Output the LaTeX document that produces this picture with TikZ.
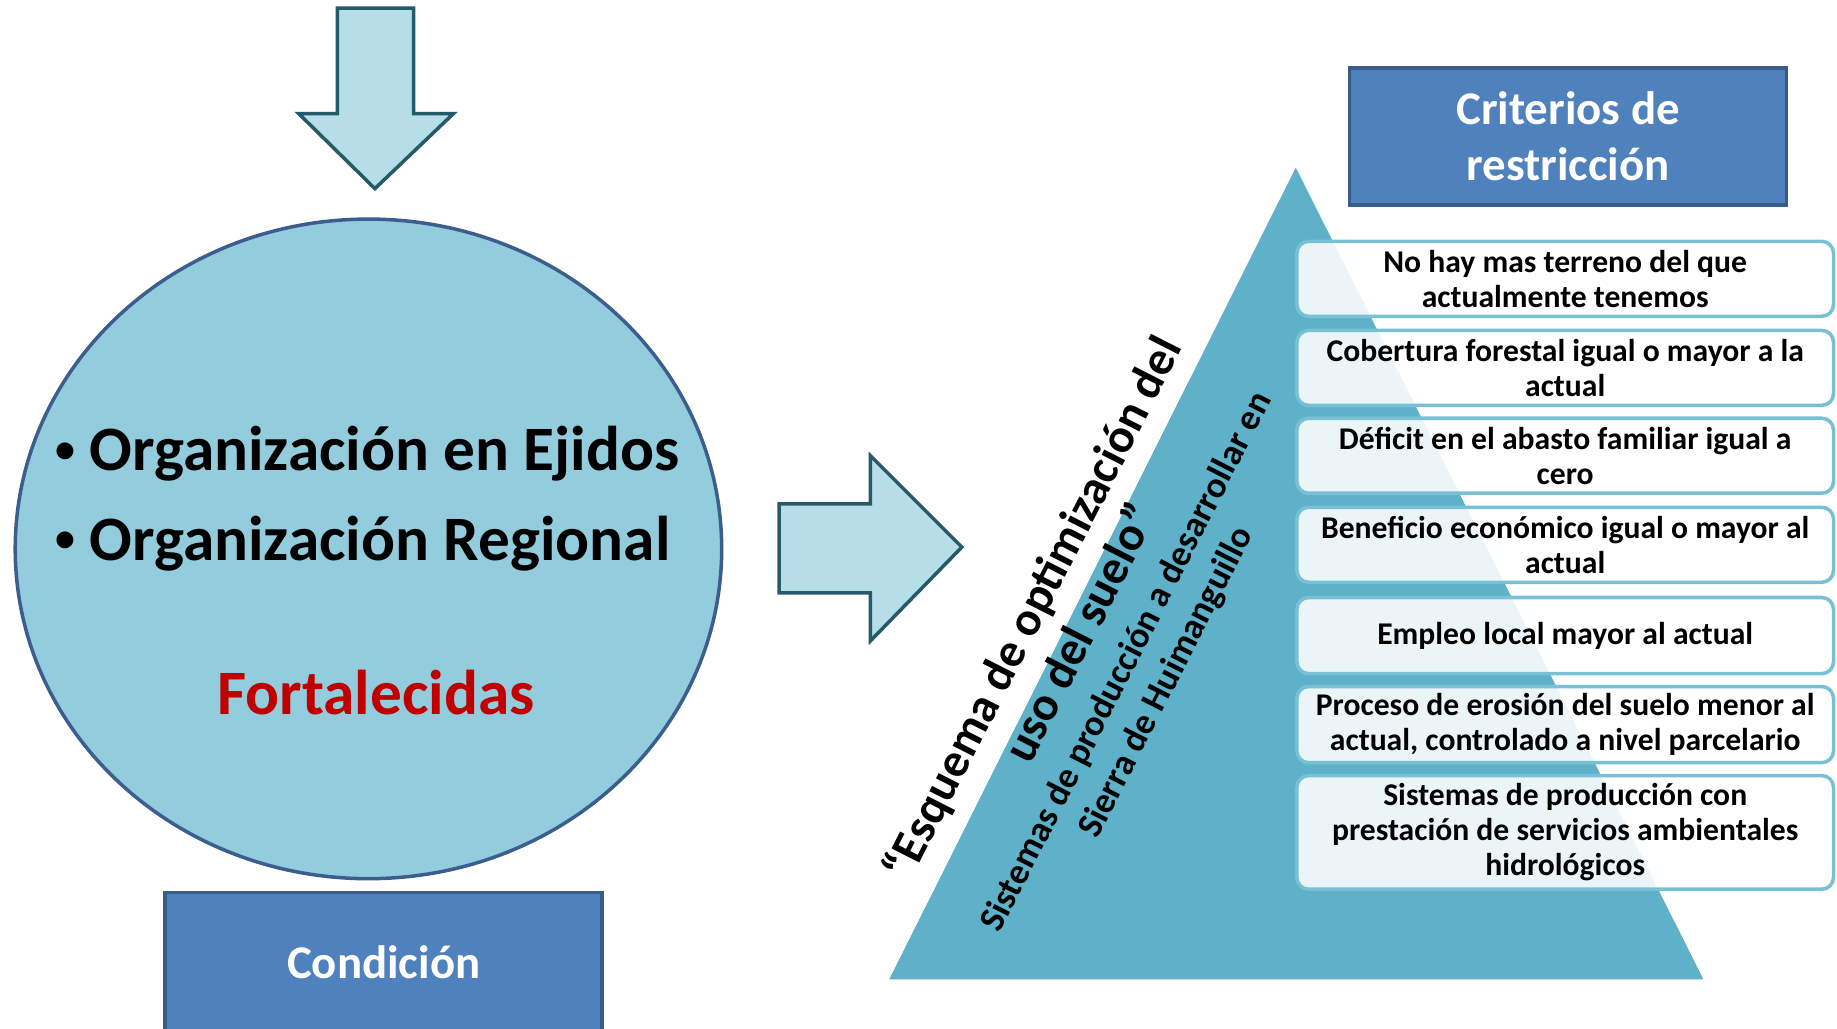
\documentclass[tikz,border=0pt]{standalone}
\usepackage{fontspec}
\setmainfont{Carlito}

\definecolor{arrowfill}{RGB}{183,221,232}
\definecolor{arrowline}{RGB}{36,90,106}
\definecolor{ovalfill}{RGB}{147,205,221}
\definecolor{ovalline}{RGB}{59,94,143}
\definecolor{boxfill}{RGB}{79,129,189}
\definecolor{boxline}{RGB}{56,93,138}
\definecolor{pyrfill}{RGB}{94,177,201}
\definecolor{critline}{RGB}{120,192,212}
\definecolor{fortred}{RGB}{192,0,0}

\newcommand\ovalbullet{\makebox[29pt][l]{\raisebox{7pt}{\fontsize{34}{34}\selectfont•}}}

\tikzset{
  titlebox/.style={draw=boxline,fill=boxfill,line width=3,text=white,align=center,
    font=\bfseries\fontsize{40}{48}\selectfont,inner sep=0},
  critbox/.style={draw=critline,line width=3,fill=white,fill opacity=0.88,text opacity=1,
    rounded corners=10,minimum width=458,minimum height=64,inner sep=0,align=center,
    font=\bfseries\fontsize{27}{30}\selectfont},
  blockarrow/.style={fill=arrowfill,draw=arrowline,line width=3}
}

\begin{document}
\begin{tikzpicture}[x=1pt,y=-1pt]
  % Constants
  \pgfmathsetmacro\w{1568}
  \pgfmathsetmacro\h{878}
  \pgfmathsetmacro\critx{1336}
  % Boundary
  \path[use as bounding box] (0,0) rectangle (\w,\h);
  % Arrow into the oval
  \filldraw[blockarrow] (288,7) -- (353,7) -- (353,97) -- (387,97) -- (320,161) -- (255,97) -- (288,97) -- cycle;
  % Oval
  \filldraw[fill=ovalfill,draw=ovalline,line width=3] (314.5,468.5) ellipse [x radius=301.5, y radius=281.5];
  \node[anchor=base west,font=\bfseries\fontsize{54}{60}\selectfont] (ejidos) at (44,402) {\ovalbullet Organización en Ejidos};
  \node[anchor=base west,font=\bfseries\fontsize{54}{60}\selectfont] (regional) at (44,478) {\ovalbullet Organización Regional};
  \node[anchor=base,text=fortred,font=\bfseries\fontsize{54}{60}\selectfont] (fortalecidas) at (321,610) {Fortalecidas};
  % Condition box
  \node[titlebox,minimum width=373,minimum height=118] (condicion) at (327.5,821) {Condición};
  % Arrow into the pyramid
  \filldraw[blockarrow] (665,430) -- (743,430) -- (743,389) -- (821,467) -- (743,547) -- (743,506) -- (665,506) -- cycle;
  % Pyramid
  \fill[pyrfill] (1106,143) -- (1454,836) -- (759,836) -- cycle;
  \node[rotate=63,align=center,font=\bfseries\fontsize{41}{46}\selectfont] (esquema) at (900,529)
    {“Esquema de optimización del\\uso del suelo”};
  \node[rotate=63,align=center,font=\bfseries\fontsize{31}{38}\selectfont] (sistemas) at (979,574)
    {Sistemas de producción a desarrollar en\\Sierra de Huimanguillo};
  % Restriction criteria
  \node[titlebox,minimum width=373,minimum height=117] (criterios) at (1338.5,116.5) {Criterios de\\restricción};
  \node[critbox] (terreno) at (\critx,238) {No hay mas terreno del que\\actualmente tenemos};
  \node[critbox] (cobertura) at (\critx,314) {Cobertura forestal igual o mayor a la\\actual};
  \node[critbox] (deficit) at (\critx,389) {Déficit en el abasto familiar igual a\\cero};
  \node[critbox] (beneficio) at (\critx,465) {Beneficio económico igual o mayor al\\actual};
  \node[critbox,minimum height=65] (empleo) at (\critx,542.5) {Empleo local mayor al actual};
  \node[critbox,minimum height=65] (erosion) at (\critx,618.5) {Proceso de erosión del suelo menor al\\actual, controlado a nivel parcelario};
  \node[critbox,minimum height=97] (servicios) at (\critx,710.5) {Sistemas de producción con\\prestación de servicios ambientales\\hidrológicos};
\end{tikzpicture}
\end{document}
